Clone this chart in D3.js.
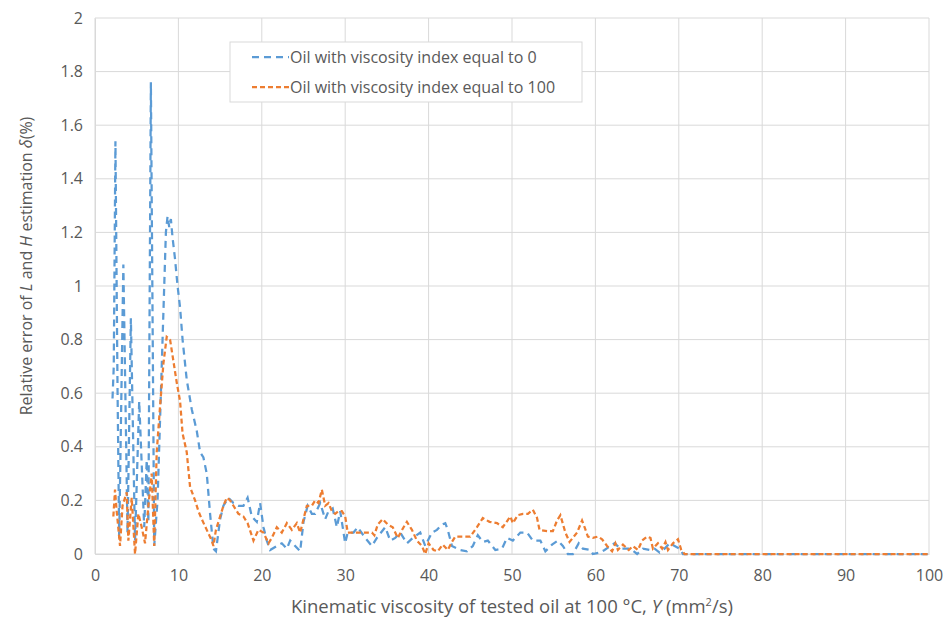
<!DOCTYPE html>
<html>
<head>
<meta charset="utf-8">
<script src="https://cdn.jsdelivr.net/npm/d3@7"></script>
<style>
  body { margin: 0; background: #fff; }
  text { font-family: "Open Sans", sans-serif; fill: #595959; }
</style>
</head>
<body>
<svg id="drawing_region"></svg>
<script>
// series names
const seriesNames = ['Oil with viscosity index equal to 0', 'Oil with viscosity index equal to 100'];

// VI = 0 (blue)
const vi0X = [2.1, 2.25, 2.45, 2.7, 2.9, 3.4, 3.9, 4.3, 4.8, 5.3, 5.9, 6.2, 6.4, 6.7, 7.1, 7.5, 8.0, 8.5, 8.7, 8.9, 9.1, 9.3, 9.6, 9.9, 10.2, 10.5, 11.0, 11.6, 12.2, 12.6, 13.0, 13.4, 13.8, 14.2,
  14.5, 15.0, 15.4, 16.0, 16.6, 17.2, 17.8, 18.3, 18.8, 19.4, 19.8, 20.2, 20.6, 21.0, 21.8, 22.4, 23.0, 23.4, 24.0, 24.6, 25.0, 25.5, 26.0, 26.4, 27.0, 27.6, 28.0, 28.5, 29.0, 29.4, 30.0,
  30.3, 31.0, 31.5, 32.4, 33.2, 33.8, 34.8, 35.4, 36.0, 36.6, 37.4, 38.1, 39.0, 39.6, 40.4, 41.0, 41.6, 42.0, 42.3, 42.8, 43.8, 44.6, 45.3, 45.9, 46.5, 47.1, 48.0, 48.8, 49.4, 50.1,
  51.0, 51.8, 52.5, 53.4, 54.0, 54.8, 55.5, 56.1, 56.7, 57.3, 58.0, 58.5, 59.4, 59.7, 60.5, 61.1, 61.8, 62.3, 63.0, 63.6, 64.2, 65.0, 65.7, 66.5, 67.1, 67.7, 68.3, 68.9, 69.5, 70.1, 70.5, 100];
const vi0Y = [0.58, 0.70, 1.54, 0.62, 0.06, 1.08, 0.08, 0.88, 0.05, 0.57, 0.10, 0.35, 0.12, 1.76, 0.03, 0.20, 0.70, 1.20, 1.26, 1.22, 1.25, 1.18, 1.10, 1.00, 0.92, 0.80, 0.65, 0.54, 0.46, 0.38, 0.36, 0.30, 0.15, 0.02,
  0.01, 0.13, 0.18, 0.21, 0.19, 0.18, 0.18, 0.21, 0.14, 0.12, 0.19, 0.10, 0.05, 0.015, 0.03, 0.04, 0.02, 0.05, 0.03, 0.01, 0.12, 0.18, 0.15, 0.15, 0.19, 0.13, 0.16, 0.17, 0.10, 0.16, 0.04,
  0.08, 0.08, 0.10, 0.06, 0.03, 0.06, 0.10, 0.05, 0.06, 0.08, 0.04, 0.06, 0.08, 0.03, 0.08, 0.09, 0.11, 0.115, 0.09, 0.03, 0.015, 0.01, 0.03, 0.07, 0.045, 0.05, 0.015, 0.02, 0.06, 0.05,
  0.08, 0.08, 0.05, 0.05, 0.01, 0.035, 0.05, 0.03, 0.0, 0.0, 0.04, 0.02, 0.015, 0.0, 0.005, 0.015, 0.03, 0.04, 0.02, 0.02, 0.02, 0.0, 0.02, 0.015, 0.02, 0.005, 0.02, 0.04, 0.03, 0.02, 0, 0];

// VI = 100 (orange)
const vi100X = [2.2, 2.4, 2.6, 3.0, 3.3, 3.8, 4.0, 4.4, 4.8, 5.2, 5.6, 6.0, 6.4, 6.8, 7.1, 7.4, 7.8, 8.2, 8.6, 9.0, 9.3, 9.8, 10.2, 10.5, 11.0, 11.4, 12.0, 12.4, 12.8, 13.4, 14.0, 14.2, 14.5, 15.0, 15.4,
  15.8, 16.2, 16.6, 17.2, 17.8, 18.3, 19.0, 19.6, 20.2, 20.8, 21.2, 21.8, 22.4, 23.0, 23.6, 24.2, 24.6, 25.0, 25.4, 26.0, 26.4, 26.8, 27.2, 27.6, 28.0, 28.4, 28.8, 29.2, 29.6, 30.0,
  30.3, 31.0, 31.8, 32.6, 33.2, 33.5, 33.9, 34.5, 35.1, 35.7, 36.3, 37.0, 37.4, 38.0, 38.6, 39.2, 39.6, 40.0, 40.6, 41.1, 41.7, 42.3, 42.8, 43.2, 44.0, 45.0, 45.8, 46.5, 47.3, 48.2,
  48.9, 49.8, 50.1, 50.7, 51.3, 51.9, 52.5, 53.0, 53.3, 54.2, 54.9, 55.4, 55.8, 56.4, 56.9, 57.8, 58.4, 58.7, 59.1, 59.7, 60.3, 60.8, 61.4, 62.0, 62.4, 62.7, 63.3, 64.0, 64.5, 65.1,
  65.6, 66.2, 66.6, 66.9, 67.5, 68.0, 68.4, 68.7, 69.3, 69.9, 70.3, 70.7, 100];
const vi100Y = [0.14, 0.24, 0.16, 0.03, 0.18, 0.23, 0.05, 0.21, 0.0, 0.15, 0.10, 0.04, 0.18, 0.30, 0.03, 0.38, 0.55, 0.71, 0.81, 0.80, 0.74, 0.64, 0.57, 0.45, 0.38, 0.25, 0.20, 0.16, 0.13, 0.09, 0.05, 0.03, 0.09, 0.14, 0.18,
  0.21, 0.20, 0.18, 0.15, 0.14, 0.115, 0.05, 0.09, 0.08, 0.04, 0.06, 0.10, 0.08, 0.115, 0.09, 0.115, 0.08, 0.13, 0.18, 0.18, 0.20, 0.19, 0.24, 0.18, 0.19, 0.16, 0.15, 0.16, 0.16, 0.14,
  0.08, 0.08, 0.08, 0.08, 0.08, 0.07, 0.11, 0.13, 0.11, 0.10, 0.06, 0.10, 0.12, 0.09, 0.05, 0.03, 0.0, 0.04, 0.015, 0.01, 0.035, 0.015, 0.045, 0.065, 0.065, 0.065, 0.10, 0.134, 0.12, 0.115,
  0.10, 0.14, 0.115, 0.145, 0.15, 0.15, 0.165, 0.135, 0.09, 0.085, 0.085, 0.125, 0.145, 0.08, 0.045, 0.08, 0.125, 0.10, 0.065, 0.06, 0.065, 0.055, 0.03, 0.01, 0.04, 0.015, 0.035, 0.015, 0.03, 0.015,
  0.05, 0.065, 0.06, 0.02, 0.04, 0.02, 0.045, 0.015, 0.04, 0.055, 0.015, 0, 0];

const xTicks = [0, 10, 20, 30, 40, 50, 60, 70, 80, 90, 100];
const yTicks = [0, 0.2, 0.4, 0.6, 0.8, 1, 1.2, 1.4, 1.6, 1.8, 2];

const width = 950, height = 619;
const margin = {top: 18, right: 21, bottom: 65, left: 95};

const svg = d3.select('#drawing_region')
  .attr('width', width)
  .attr('height', height);

const x = d3.scaleLinear().domain([0, 100]).range([margin.left, width - margin.right]);
const y = d3.scaleLinear().domain([0, 2]).range([height - margin.bottom, margin.top]);

// grid
svg.append('g').selectAll('line.v').data(xTicks).enter()
  .append('line')
  .attr('x1', d => x(d)).attr('x2', d => x(d))
  .attr('y1', y(0)).attr('y2', y(2))
  .attr('stroke', '#d9d9d9').attr('stroke-width', 1);

svg.append('g').selectAll('line.h').data(yTicks).enter()
  .append('line')
  .attr('x1', x(0)).attr('x2', x(100))
  .attr('y1', d => y(d)).attr('y2', d => y(d))
  .attr('stroke', '#d9d9d9').attr('stroke-width', 1);

// axes
const xAxis = svg.append('g')
  .attr('transform', `translate(0, ${y(0)})`)
  .call(d3.axisBottom(x).tickValues(xTicks).tickSize(0).tickPadding(16).tickFormat(d3.format('d')));
const yAxis = svg.append('g')
  .attr('transform', `translate(${x(0)}, 0)`)
  .call(d3.axisLeft(y).tickValues(yTicks).tickSize(0).tickPadding(12).tickFormat(d => String(d)));
[xAxis, yAxis].forEach(a => {
  a.select('.domain').attr('stroke', '#d9d9d9');
  a.selectAll('text').style('font-size', '16px').attr('fill', '#595959');
});

// lines
const line = d3.line().x(d => x(d[0])).y(d => y(d[1]));
const blueData = vi0X.map((v, i) => [v, vi0Y[i]]);
const orangeData = vi100X.map((v, i) => [v, vi100Y[i]]);

svg.append('path').datum(blueData)
  .attr('d', line).attr('fill', 'none')
  .attr('stroke', '#5b9bd5').attr('stroke-width', 2.25)
  .attr('stroke-dasharray', '7,5');

svg.append('path').datum(orangeData)
  .attr('d', line).attr('fill', 'none')
  .attr('stroke', '#ed7d31').attr('stroke-width', 2.25)
  .attr('stroke-dasharray', '5,3');

// legend
const legend = svg.append('g');
legend.append('rect')
  .attr('x', 230).attr('y', 42).attr('width', 352).attr('height', 60)
  .attr('fill', '#fff').attr('stroke', '#d9d9d9');
const legendStyles = [
  {color: '#5b9bd5', dash: '7,5'},
  {color: '#ed7d31', dash: '5,3'}
];
seriesNames.forEach((name, i) => {
  const ly = 57 + i * 30;
  legend.append('line')
    .attr('x1', 252).attr('x2', 289).attr('y1', ly).attr('y2', ly)
    .attr('stroke', legendStyles[i].color).attr('stroke-width', 2.25)
    .attr('stroke-dasharray', legendStyles[i].dash);
  legend.append('text')
    .attr('x', 290).attr('y', ly + 6)
    .style('font-size', '16px')
    .text(name);
});

// axis titles
const xt = svg.append('text')
  .attr('x', x(50)).attr('y', 613)
  .attr('text-anchor', 'middle')
  .style('font-size', '18.5px');
xt.append('tspan').text('Kinematic viscosity of tested oil at 100 °C, ');
xt.append('tspan').style('font-style', 'italic').text('Y');
xt.append('tspan').text(' (mm');
xt.append('tspan').attr('baseline-shift', 'super').style('font-size', '11px').text('2');
xt.append('tspan').text('/s)');

const yt = svg.append('text')
  .attr('transform', 'translate(32, 266) rotate(-90)')
  .attr('text-anchor', 'middle')
  .style('font-size', '16px');
yt.append('tspan').text('Relative error of ');
yt.append('tspan').style('font-style', 'italic').text('L');
yt.append('tspan').text(' and ');
yt.append('tspan').style('font-style', 'italic').text('H');
yt.append('tspan').text(' estimation ');
yt.append('tspan').style('font-style', 'italic').text('δ');
yt.append('tspan').text('(%)');
</script>
</body>
</html>
